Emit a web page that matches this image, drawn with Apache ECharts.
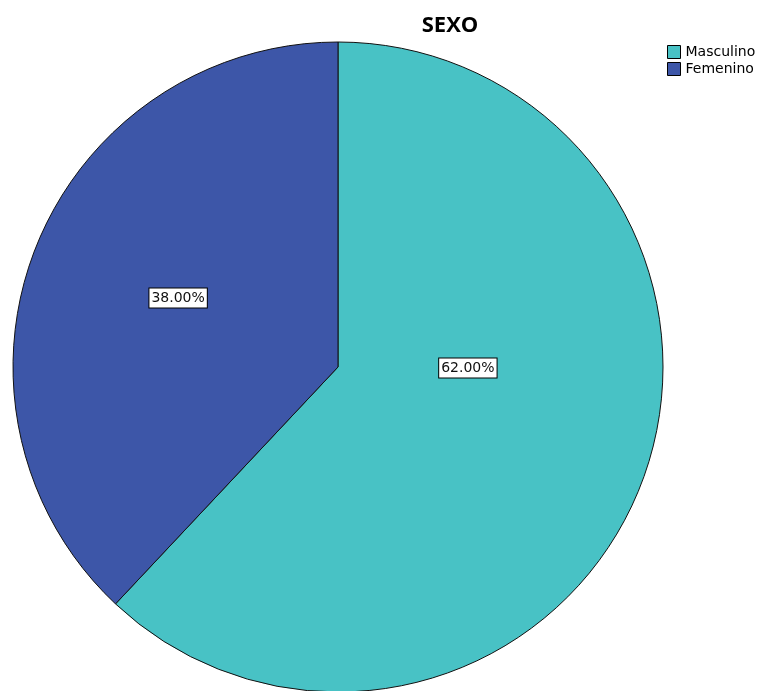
<!DOCTYPE html>
<html><head><meta charset="utf-8">
<style>html,body{margin:0;padding:0;background:#fff;}#c{width:763px;height:691px;}</style>
<script src="https://cdn.jsdelivr.net/npm/echarts@6/dist/echarts.min.js"></script>
</head><body><div id="c"></div>
<script>
const categories = ['Masculino', 'Femenino'];
const values = [62, 38];
const colors = ['#48C2C5', '#3D56A8'];
const labelShift = [[-24, -60], [-6, -8]];

const chart = echarts.init(document.getElementById('c'));
chart.setOption({
  animation: false,
  title: {
    text: 'SEXO', left: 445, top: 10, textAlign: 'center',
    textStyle: { fontFamily: 'Open Sans', fontWeight: 'bold', fontSize: 22, color: '#000' }
  },
  legend: {
    orient: 'vertical', left: 667, top: 45, padding: 0, itemWidth: 13, itemHeight: 13, itemGap: 3,
    icon: 'rect',
    textStyle: { fontFamily: 'DejaVu Sans', fontSize: 14, lineHeight: 13, color: '#000', padding: [0, 0, 0, 0] },
    itemStyle: { borderColor: '#000', borderWidth: 1 },
    data: categories
  },
  series: [{
    type: 'pie',
    center: [338, 367],
    radius: [0, 325],
    startAngle: 90,
    clockwise: true,
    data: categories.map((c, i) => ({ name: c, value: values[i], itemStyle: { color: colors[i] } })),
    itemStyle: { borderColor: '#111', borderWidth: 1 },
    label: {
      position: 'inside',
      formatter: p => p.value.toFixed(2) + '%',
      fontFamily: 'DejaVu Sans', fontSize: 14, color: '#111',
      backgroundColor: '#fff', borderColor: '#000', borderWidth: 1,
      padding: [3, 2, 2, 2]
    },
    labelLayout: p => ({ dx: labelShift[p.dataIndex][0], dy: labelShift[p.dataIndex][1] }),
    labelLine: { show: false },
    emphasis: { disabled: true }
  }]
});
</script></body></html>
